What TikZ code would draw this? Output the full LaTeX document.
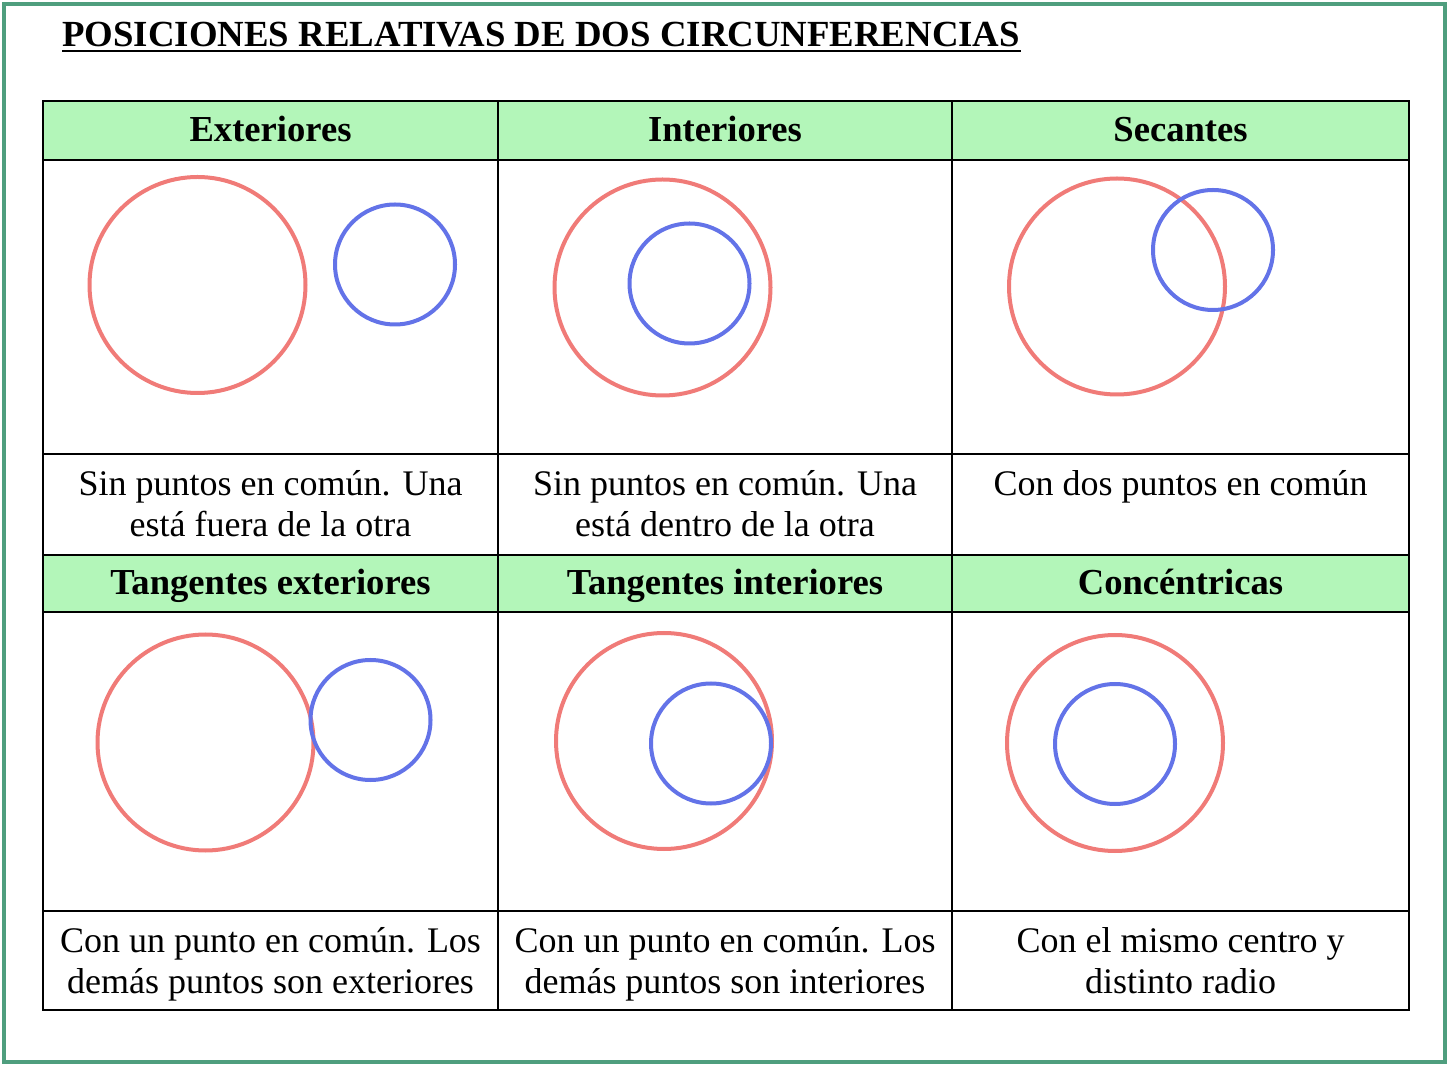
\documentclass[tikz,border=0pt]{standalone}
\usepackage{fontspec}
\setmainfont{Liberation Serif}
\usepackage{xcolor}
\usetikzlibrary{positioning}
\definecolor{borde}{HTML}{4F9E7E}
\definecolor{cabecera}{HTML}{B3F6B9}
\definecolor{rojo}{HTML}{F07B78}
\definecolor{azul}{HTML}{6373E8}
\tikzset{
  titulo/.style={inner sep=0pt,anchor=base west,font=\bfseries\fontsize{18.4}{22}\selectfont},
  cabtexto/.style={inner sep=0pt,anchor=base,font=\bfseries\fontsize{18.3}{22}\selectfont},
  celtexto/.style={inner sep=0pt,anchor=base,align=center,font=\fontsize{18}{20.5}\selectfont},
  grande/.style={circle,draw=rojo,line width=2pt,minimum size=108pt,inner sep=0pt},
  chico/.style={circle,draw=azul,line width=2pt,minimum size=60pt,inner sep=0pt},
  rejilla/.style={line width=1pt,draw=black}
}

\begin{document}
\begin{tikzpicture}[x=0.5pt,y=-0.5pt]
  \useasboundingbox (0,0) rectangle (1450,1068);
  \draw[borde,line width=2pt] (4,4) rectangle (1445,1062);

  % titulo
  \node[titulo] (titulo) at (62,47) {POSICIONES RELATIVAS DE DOS CIRCUNFERENCIAS};
  \draw[line width=1pt] ([yshift=-2pt]titulo.base west) -- ([yshift=-2pt]titulo.base east);

  % tabla
  \fill[cabecera] (43,101) rectangle (1409,160);
  \fill[cabecera] (43,555) rectangle (1409,612);
  \draw[rejilla] (43,101) rectangle (1409,1010);
  \foreach \y in {160,454,555,612,911}
    \draw[rejilla] (43,\y) -- (1409,\y);
  \foreach \x in {498,952}
    \draw[rejilla] (\x,101) -- (\x,1010);

  % cabeceras
  \node[cabtexto] (hExt) at (270.5,142) {Exteriores};
  \node[cabtexto] (hInt) at (725,142) {Interiores};
  \node[cabtexto] (hSec) at (1180.5,142) {Secantes};
  \node[cabtexto] (hTanExt) at (270.5,595) {Tangentes exteriores};
  \node[cabtexto] (hTanInt) at (725,595) {Tangentes interiores};
  \node[cabtexto] (hConc) at (1180.5,595) {Concéntricas};

  % circunferencias
  \node[grande] (extR) at (197.5,285) {};
  \node[chico] (extA) at (395,264.5) {};
  \node[grande] (intR) at (662.5,287.5) {};
  \node[chico] (intA) at (689.5,283.5) {};
  \node[grande] (secR) at (1117,286.5) {};
  \node[chico] (secA) at (1213,250) {};
  \node[grande] (tExtR) at (205.5,742.5) {};
  \node[chico] (tExtA) at (370.5,720) {};
  \node[grande] (tIntR) at (664,741) {};
  \node[chico] (tIntA) at (711,743.5) {};
  \node[grande] (concR) at (1115,743) {};
  \node[chico] (concA) at (1115,744) {};

  % descripciones (base = ultima linea)
  \node[celtexto] (dExt) at (270.5,537) {Sin puntos en común. Una\\está fuera de la otra};
  \node[celtexto] (dInt) at (725,537) {Sin puntos en común. Una\\está dentro de la otra};
  \node[celtexto] (dSec) at (1180.5,496) {Con dos puntos en común};
  \node[celtexto] (dTanExt) at (270.5,993) {Con un punto en común. Los\\demás puntos son exteriores};
  \node[celtexto] (dTanInt) at (725,993) {Con un punto en común. Los\\demás puntos son interiores};
  \node[celtexto] (dConc) at (1180.5,993) {Con el mismo centro y\\distinto radio};
\end{tikzpicture}
\end{document}
